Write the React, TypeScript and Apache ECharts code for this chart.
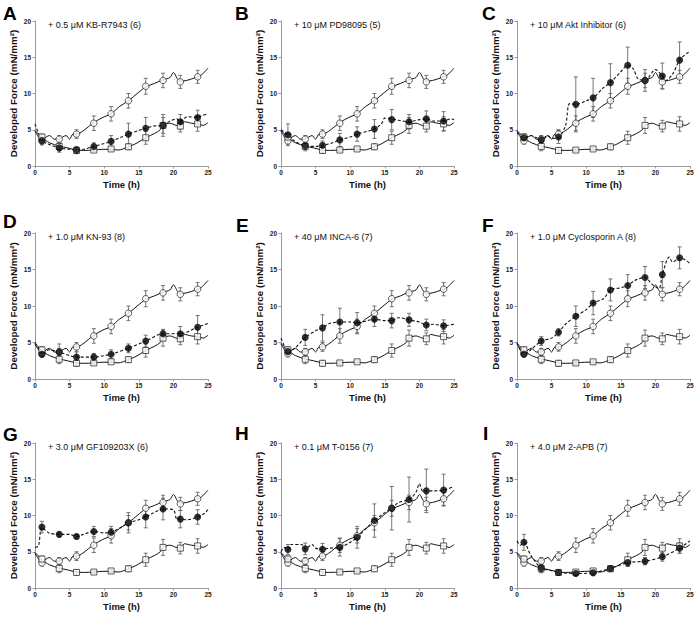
import React, { useEffect, useRef } from "react";
import * as echarts from "echarts";

// Sampling times of the plotted means
const markTimes = [1, 3.5, 6, 8.5, 11, 13.5, 16, 18.5, 21, 23.5];

// Control traces (same in each panel)
const ctrlUpperTrace: number[][] = [
  [0, 4.8], [0.5, 4.0], [1, 3.45], [1.6, 4.0], [2.1, 4.2], [2.8, 3.7], [3.5, 3.7], [4, 4.0], [4.5, 4.2],
  [5, 3.7], [5.5, 4.4], [6, 4.4], [6.9, 4.8], [8.5, 6.0], [9.8, 6.7], [11, 7.2], [12.2, 8.2], [13.5, 9.0],
  [14.9, 10.1], [16, 10.9], [17.3, 11.4], [18.5, 11.9], [19.5, 12.2], [20, 12.9], [20.6, 12.0], [21, 11.7],
  [21.9, 11.8], [22.6, 12.0], [23.5, 12.3], [24.1, 12.6], [25, 13.5],
];
const ctrlUpperMean = [3.45, 3.7, 4.4, 5.9, 7.2, 9.0, 11.0, 11.8, 11.6, 12.3];
const ctrlUpperSem = [0.4, 0.5, 0.6, 1.0, 1.0, 1.0, 1.1, 1.0, 0.9, 0.9];

const ctrlLowerTrace: number[][] = [
  [0, 4.9], [0.5, 4.4], [1, 3.9], [2.1, 3.2], [3.5, 2.75], [4.7, 2.5], [6, 2.2], [7, 2.15], [8.5, 2.2],
  [9.8, 2.3], [11, 2.3], [12, 2.2], [13.5, 2.65], [14.6, 3.1], [16, 3.9], [17.3, 4.5], [18.1, 5.0],
  [18.5, 5.6], [19.5, 5.9], [20.4, 5.6], [21, 5.5], [21.6, 6.1], [22.6, 5.9], [23.5, 5.8], [24.3, 5.6], [25, 6.0],
];
const ctrlLowerMean = [4.0, 2.7, 2.15, 2.2, 2.35, 2.65, 3.9, 5.6, 5.5, 5.8];
const ctrlLowerSem = [0.4, 0.6, 0.4, 0.2, 0.2, 0.4, 0.9, 1.1, 0.8, 1.0];

// Panel letters and treatment labels
const panelLetters = ["A", "B", "C", "D", "E", "F", "G", "H", "I"];
const panelLabels = [
  "+ 0.5 \u03bcM KB-R7943 (6)",
  "+ 10 \u03bcM PD98095 (5)",
  "+ 10 \u03bcM Akt Inhibitor (6)",
  "+ 1.0 \u03bcM KN-93 (8)",
  "+ 40 \u03bcM INCA-6 (7)",
  "+ 1.0 \u03bcM Cyclosporin A (8)",
  "+ 3.0 \u03bcM GF109203X (6)",
  "+ 0.1 \u03bcM T-0156 (7)",
  "+ 4.0 \u03bcM 2-APB (7)",
];

// Treatment data (filled circles, dashed trace)
const treatAMean = [3.5, 2.5, 2.2, 2.7, 3.4, 4.4, 5.2, 5.6, 6.1, 6.7];
const treatASem = [0.6, 0.6, 0.5, 0.5, 0.8, 1.5, 1.5, 1.5, 1.0, 1.0];
const treatATrace: number[][] = [[0, 5.8], [0.5, 4.5], [1, 3.5], [2, 3.0], [3.5, 2.5], [5, 2.3], [6, 2.2], [7, 2.3], [8.5, 2.7], [10, 3.1], [11, 3.4], [12.5, 4.0], [13.5, 4.4], [15, 4.9], [16, 5.2], [17, 5.5], [18.5, 5.6], [19.5, 6.2], [20.5, 6.5], [21, 6.1], [22, 6.8], [23.5, 6.7], [24, 6.9], [25, 7.2]];

const treatBMean = [4.3, 2.8, 2.85, 3.6, 4.4, 5.1, 6.4, 6.1, 6.5, 6.2];
const treatBSem = [1.5, 0.5, 0.6, 0.9, 1.0, 1.3, 1.4, 1.0, 1.1, 1.3];
const treatBTrace: number[][] = [[0, 5.0], [1, 4.3], [2, 3.4], [3.5, 2.8], [5, 2.7], [6, 2.85], [7.5, 3.2], [8.5, 3.6], [10, 4.0], [11, 4.4], [12.5, 4.8], [13.5, 5.1], [14.5, 5.8], [15, 6.6], [16, 6.5], [17, 6.3], [18.5, 6.1], [20, 6.4], [21, 6.5], [22, 6.2], [23.5, 6.2], [24.5, 6.5], [25, 6.4]];

const treatCMean = [3.9, 3.6, 4.0, 8.5, 9.4, 11.5, 13.9, 11.8, 12.4, 14.6];
const treatCSem = [0.5, 0.4, 0.9, 3.8, 2.7, 2.6, 2.5, 1.5, 1.8, 2.5];
const treatCTrace: number[][] = [[0, 4.6], [1, 3.9], [2, 4.2], [3, 3.8], [3.5, 3.6], [4.5, 4.1], [5, 3.8], [6, 4.0], [7, 5.5], [7.6, 8.6], [8.5, 8.5], [10, 9.0], [11, 9.4], [12.5, 10.8], [13.5, 11.5], [15, 13.0], [16, 13.9], [16.8, 13.4], [17.5, 12.0], [18.5, 11.8], [20, 13.3], [21, 12.4], [21.5, 11.8], [22.5, 12.7], [23.5, 14.6], [24.5, 15.5], [25, 15.8]];

const treatDMean = [3.4, 3.7, 3.0, 3.0, 3.4, 4.2, 5.2, 6.2, 6.2, 7.1];
const treatDSem = [0.4, 1.1, 0.7, 0.5, 0.6, 0.6, 0.8, 0.6, 1.0, 1.6];
const treatDTrace: number[][] = [[0, 5.0], [0.5, 4.2], [1, 3.4], [2, 4.0], [3.5, 3.7], [5, 3.2], [6, 3.0], [8.5, 3.0], [10, 3.2], [11, 3.4], [13.5, 4.2], [16, 5.2], [18.5, 6.2], [21, 6.2], [23.5, 7.1], [25, 7.6]];

const treatEMean = [3.75, 5.7, 7.0, 7.8, 7.7, 8.2, 8.0, 8.1, 7.4, 7.3];
const treatESem = [0.4, 1.1, 1.8, 1.9, 1.4, 1.0, 1.0, 0.9, 0.8, 0.8];
const treatETrace: number[][] = [[0, 5.6], [0.5, 4.5], [1, 3.75], [2, 4.2], [3.5, 5.7], [5, 6.6], [6, 7.0], [7, 7.6], [8.5, 7.8], [10, 7.8], [11, 7.7], [12.5, 8.0], [13.5, 8.2], [15, 8.0], [16, 8.0], [17, 8.4], [18.5, 8.1], [20, 7.8], [21, 7.4], [22, 7.5], [23.5, 7.3], [25, 7.5]];

const treatFMean = [3.4, 5.2, 6.4, 8.6, 10.4, 12.2, 12.8, 13.9, 14.3, 16.6];
const treatFSem = [0.3, 0.6, 0.5, 1.4, 1.6, 1.5, 1.5, 1.5, 1.8, 1.5];
const treatFTrace: number[][] = [[0, 5.0], [1, 3.4], [2, 4.0], [3.5, 5.2], [5, 5.6], [6, 6.4], [7, 7.5], [8.5, 8.6], [10, 9.5], [11, 10.4], [12.5, 11.0], [13.5, 12.2], [15, 12.5], [16, 12.8], [17, 13.5], [18.5, 13.9], [19.5, 13.0], [20.5, 12.4], [21, 14.3], [22, 16.7], [22.5, 16.0], [23.5, 16.6], [24.5, 16.2], [25, 15.8]];

const treatGMean = [8.4, 7.4, 7.1, 7.8, 7.7, 9.0, 9.8, 10.9, 9.5, 9.8];
const treatGSem = [0.8, 0.3, 0.3, 0.7, 0.8, 1.4, 1.5, 1.5, 1.2, 1.0];
const treatGTrace: number[][] = [[0, 5.6], [0.5, 5.8], [1, 8.4], [2, 7.6], [3.5, 7.4], [5, 7.4], [6, 7.1], [7, 7.4], [8.5, 7.8], [10, 7.6], [11, 7.7], [12.5, 8.4], [13.5, 9.0], [15, 9.4], [16, 9.8], [17, 10.3], [18.5, 10.9], [20, 10.8], [20.5, 9.5], [21, 9.5], [22, 9.4], [23.5, 9.8], [24.5, 10.3], [25, 10.8]];

const treatHMean = [5.3, 5.4, 5.35, 5.6, 7.0, 9.3, 11.0, 12.2, 13.4, 13.5];
const treatHSem = [0.7, 0.8, 0.8, 1.2, 1.5, 2.3, 3.0, 3.1, 3.0, 2.2];
const treatHTrace: number[][] = [[0, 5.0], [0.5, 5.6], [1, 5.3], [1.5, 6.0], [3, 6.0], [3.5, 5.4], [4.5, 6.0], [5, 5.5], [6, 5.35], [7, 5.5], [8.5, 5.6], [10, 6.3], [11, 7.0], [12.5, 8.4], [13.5, 9.3], [15, 10.4], [16, 11.0], [17, 11.8], [18.5, 12.2], [19.5, 13.2], [20, 14.4], [20.5, 13.3], [21, 13.4], [22, 13.4], [23.5, 13.5], [25, 14.0]];

const treatIMean = [6.3, 2.75, 2.15, 2.0, 2.1, 2.7, 3.5, 3.7, 4.3, 5.5];
const treatISem = [1.1, 0.6, 0.4, 0.3, 0.4, 0.3, 0.5, 0.5, 0.6, 0.7];
const treatITrace: number[][] = [[0, 6.5], [0.5, 5.9], [1, 6.3], [2, 4.5], [3.5, 2.75], [5, 2.4], [6, 2.15], [8.5, 2.0], [11, 2.1], [13.5, 2.7], [16, 3.5], [18.5, 3.7], [21, 4.3], [23.5, 5.5], [25, 6.5]];

const treatMeans = [treatAMean, treatBMean, treatCMean, treatDMean, treatEMean, treatFMean, treatGMean, treatHMean, treatIMean];
const treatSems = [treatASem, treatBSem, treatCSem, treatDSem, treatESem, treatFSem, treatGSem, treatHSem, treatISem];
const treatTraces = [treatATrace, treatBTrace, treatCTrace, treatDTrace, treatETrace, treatFTrace, treatGTrace, treatHTrace, treatITrace];

// Axis ticks
const xTicks = { min: 0, max: 25, interval: 5 };
const yTicks = { min: 0, max: 20, interval: 5 };

const FONT = "'Liberation Sans', Arial, Helvetica, sans-serif";

const colLefts = [35, 281, 517];
const rowTops = [21, 233, 443];
const plotW = 173;
const plotHs = [145, 146, 145];

function buildOption() {
  const grids: any[] = [];
  const xAxes: any[] = [];
  const yAxes: any[] = [];
  const series: any[] = [];
  const graphics: any[] = [];

  const letterPos = [
    [3, 4], [235, 4], [482, 4],
    [3, 212], [236, 216], [482, 216],
    [3, 425], [235, 424], [483, 424],
  ];

  for (let i = 0; i < 9; i++) {
    const r = Math.floor(i / 3);
    const c = i % 3;
    const left = colLefts[c];
    const top = rowTops[r];
    grids.push({ left, top, width: plotW, height: plotHs[r] });
    xAxes.push({
      gridIndex: i,
      type: "value",
      ...xTicks,
      name: "Time (h)",
      nameLocation: "middle",
      nameGap: 13,
      nameTextStyle: { fontFamily: FONT, fontSize: 9.5, fontWeight: "bold", color: "#111" },
      axisLine: { show: true, lineStyle: { color: "#9a9a9a", width: 1 } },
      axisTick: { show: true, length: 2.5, lineStyle: { color: "#9a9a9a" } },
      axisLabel: { fontFamily: FONT, fontSize: 6.5, fontWeight: "bold", color: "#222", margin: 3 },
      splitLine: { show: false },
    });
    yAxes.push({
      gridIndex: i,
      type: "value",
      ...yTicks,
      name: "Developed Force (mN/mm\u00b2)",
      nameLocation: "middle",
      nameGap: 17,
      nameRotate: 90,
      nameTextStyle: { fontFamily: FONT, fontSize: 9.8, fontWeight: "bold", color: "#111" },
      axisLine: { show: true, lineStyle: { color: "#9a9a9a", width: 1 } },
      axisTick: { show: true, length: 2.5, lineStyle: { color: "#9a9a9a" } },
      axisLabel: { fontFamily: FONT, fontSize: 6.5, fontWeight: "bold", color: "#222", margin: 4 },
      splitLine: { show: false },
    });

    const common = { xAxisIndex: i, yAxisIndex: i, silent: true };

    series.push({
      ...common,
      type: "line",
      data: ctrlUpperTrace,
      showSymbol: false,
      symbol: "none",
      smooth: 0.3,
      lineStyle: { color: "#111", width: 1 },
      z: 2,
    });
    series.push({
      ...common,
      type: "line",
      data: ctrlLowerTrace,
      showSymbol: false,
      symbol: "none",
      smooth: 0.3,
      lineStyle: { color: "#111", width: 1 },
      z: 2,
    });
    series.push({
      ...common,
      type: "line",
      data: treatTraces[i],
      showSymbol: false,
      symbol: "none",
      smooth: 0.3,
      lineStyle: { color: "#111", width: 1.1, type: [3, 2] },
      z: 2,
    });

    const errData: number[][] = [];
    markTimes.forEach((t, k) => {
      errData.push([t, ctrlUpperMean[k] - ctrlUpperSem[k], ctrlUpperMean[k] + ctrlUpperSem[k]]);
      errData.push([t, ctrlLowerMean[k] - ctrlLowerSem[k], ctrlLowerMean[k] + ctrlLowerSem[k]]);
      errData.push([t, treatMeans[i][k] - treatSems[i][k], treatMeans[i][k] + treatSems[i][k]]);
    });
    series.push({
      ...common,
      type: "custom",
      data: errData,
      z: 3,
      renderItem: (params: any, api: any) => {
        const x = api.value(0);
        const lo = api.coord([x, api.value(1)]);
        const hi = api.coord([x, api.value(2)]);
        const cap = 2;
        const style = { stroke: "#666", lineWidth: 0.9, fill: "none" };
        return {
          type: "group",
          children: [
            { type: "line", shape: { x1: lo[0], y1: lo[1], x2: hi[0], y2: hi[1] }, style },
            { type: "line", shape: { x1: lo[0] - cap, y1: lo[1], x2: lo[0] + cap, y2: lo[1] }, style },
            { type: "line", shape: { x1: hi[0] - cap, y1: hi[1], x2: hi[0] + cap, y2: hi[1] }, style },
          ],
        };
      },
    });

    series.push({
      ...common,
      type: "scatter",
      data: markTimes.map((t, k) => [t, ctrlUpperMean[k]]),
      symbol: "circle",
      symbolSize: 6.5,
      itemStyle: { color: "#fff", borderColor: "#222", borderWidth: 0.9 },
      z: 4,
    });
    series.push({
      ...common,
      type: "scatter",
      data: markTimes.map((t, k) => [t, ctrlLowerMean[k]]),
      symbol: "rect",
      symbolSize: 6,
      itemStyle: { color: "#fff", borderColor: "#222", borderWidth: 0.9 },
      z: 4,
    });
    series.push({
      ...common,
      type: "scatter",
      data: markTimes.map((t, k) => [t, treatMeans[i][k]]),
      symbol: "circle",
      symbolSize: 7,
      itemStyle: { color: "#000" },
      z: 5,
    });

    graphics.push({
      type: "text",
      left: letterPos[i][0],
      top: letterPos[i][1],
      style: { text: panelLetters[i], font: `bold 19px ${FONT}`, fill: "#000" },
    });
    graphics.push({
      type: "text",
      left: left + 13,
      top: top - 1,
      style: { text: panelLabels[i], font: `9px ${FONT}`, fill: "#111" },
    });
  }

  return {
    animation: false,
    backgroundColor: "#fff",
    grid: grids,
    xAxis: xAxes,
    yAxis: yAxes,
    series,
    graphic: graphics,
  };
}

export default function App() {
  const ref = useRef<HTMLDivElement>(null);
  useEffect(() => {
    if (!ref.current) return;
    const chart = echarts.init(ref.current, undefined, { renderer: "svg" });
    chart.setOption(buildOption() as any);
    return () => chart.dispose();
  }, []);
  return (
    <div
      ref={ref}
      style={{ position: "absolute", left: 0, top: 0, width: 697, height: 617, background: "#fff" }}
    />
  );
}
